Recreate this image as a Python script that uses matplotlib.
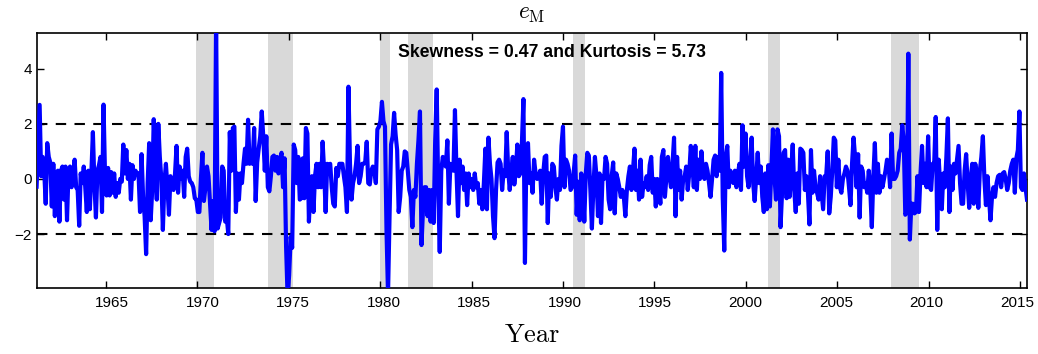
import numpy as np
import matplotlib
matplotlib.use('Agg')
import matplotlib.pyplot as plt
import matplotlib.transforms as mtransforms

plt.rcParams['font.family'] = ['Liberation Sans', 'DejaVu Sans']
plt.rcParams['mathtext.fontset'] = 'cm'

# monthly e_M values in chunks of about 4.5 years
e_1961 = [-0.28, 1.2, 2.69, 0.1, 0.8, 0.3, -0.9, 1.3, 0.8, 0.6, -1.0, 0.55, -1.35, 0.1, 0.3,
          -1.55, 0.3, 0.45, -0.75, 0.45, -1.5, 0.3, 0.45, -0.3, 0.0, 0.7, -0.3, -0.4, -1.7, 0.2,
          -0.15, 0.45, -0.3, -1.2, 0.3, -1.1, 0.2, 1.7, -0.15, -1.4, 0.3, 0.5, 0.8, -1.2, 2.7,
          0.1, -0.6, 0.4, -0.6, 0.25, -0.5, 0.2, -0.65]
e_1965 = [-0.15, -0.5, 0.0, -0.1, 1.25, 0.2, 1.05, 0.0, 0.55, -0.75, 0.5, 0.0, 0.3, 0.2, 0.2,
          -1.2, 0.9, -0.65, -1.35, -2.73, -0.15, 1.3, -1.5, -0.4, 2.17, 0.55, -0.75, 2.0, 0.8,
          0.0, -1.85, -0.15, 0.55, -0.3, -1.3, 0.1, -0.2, -0.4, 0.2, 1.2, -0.5, 0.45, 0.0, 0.3,
          -0.65, 0.8, 1.1, 0.1, -0.1, -0.15, -0.3, -0.7, -0.75, -1.2]
e_1970 = [-1.2, 0.0, 0.95, -0.8, -0.3, 0.45, 0.1, -0.9, -1.85, -0.8, -1.9, 5.8, -1.8, -1.6,
          -1.4, 0.45, 0.3, -1.55, -1.4, -2.0, 1.7, 0.3, 1.85, 1.9, -1.2, 0.2, -0.75, 0.2, -0.15,
          0.55, 1.1, 0.55, 2.15, 0.55, 0.8, 0.55, 1.85, -0.8, 0.6, 1.1, 1.55, 2.45, 1.55, 0.3,
          1.55, -0.3, -0.45, 0.1, 0.8, 0.85, 0.3, 0.8, 0.2, 0.7]
e_1974 = [0.95, -0.3, 0.75, -2.45, -4.3, -3.5, -2.1, -2.5, 1.25, 1.05, -0.15, 0.8, -0.75, -0.7,
          0.75, -0.7, 1.85, 1.65, -1.55, -0.3, 0.1, -1.2, 0.1, 0.55, -0.3, 0.55, -0.3, 1.35, 0.3,
          -1.2, 0.55, 0.45, 0.55, -0.3, -0.9, -1.0, 0.4, 0.1, 0.55, 0.55, 0.55, 0.1, -0.3, -1.2,
          3.35, 0.55, -0.75, -0.15, 0.1, 0.55, 1.2, -0.15, 0.1, 0.55]
e_1979 = [0.55, 0.6, 1.35, -0.15, -0.2, 0.3, 0.45, 0.3, -0.15, 1.8, 1.9, 2.1, 2.8, 2.1, 1.9,
          -1.85, -4.2, -1.35, 1.25, 1.55, 2.4, 1.6, 1.05, -1.2, -0.65, 0.3, 0.45, 1.0, 0.95, 0.3,
          -0.4, -0.65, -1.75, -0.4, -0.65, 0.55, 1.4, 2.45, -2.4, -1.1, -0.3, -0.3, -1.35, -0.4,
          -1.55, -0.4, -1.6, 1.4, 3.25, -0.4, -2.65, 0.3, 0.8, 0.6]
e_1983 = [0.45, 1.4, -0.9, 0.55, 0.45, 0.3, 2.5, 0.3, -1.35, 0.7, -0.15, 0.45, -0.4, 0.2,
          -0.95, 0.2, -0.3, 0.0, -0.4, 0.2, -0.3, -0.15, -0.9, -0.4, -1.1, -0.15, 1.1, -1.1, 1.5,
          0.55, 0.0, -1.35, -2.15, -0.4, 0.6, 0.7, 0.55, -0.4, 0.3, 0.1, 1.7, 0.3, -0.4, 0.3,
          0.8, -0.2, 0.3, 1.25, 0.1, 0.2, 1.3, 2.9, -3.05, 1.05]
e_1988 = [1.3, -0.15, 0.2, -0.5, 0.7, 0.2, 0.0, 0.1, 0.3, -0.9, 0.2, 0.8, 0.85, -1.6, 0.2,
          -0.65, 0.55, 0.45, -0.3, -0.75, 0.0, -0.4, 1.2, 1.9, -0.3, 0.7, 0.55, 0.3, -0.4, -0.3,
          0.2, 0.85, -1.3, -0.1, -1.5, 0.2, -0.15, -1.55, 0.2, 0.95, 0.85, -0.4, -1.8, -0.3, 0.8,
          0.1, -1.35, 0.2, -1.6, 0.1, 0.0, 0.8, 0.55, -0.75]
e_1992 = [-1.1, 0.1, 0.6, -1.25, 0.2, 0.0, -0.3, -0.65, -0.4, -0.65, -1.35, -0.4, 0.1, 0.45,
          -0.4, 0.3, 1.1, -0.4, 0.3, -0.75, 0.7, -0.65, -0.15, -0.3, 0.1, -0.4, 0.5, 0.8, -0.5,
          0.0, -1.0, 0.0, -0.3, -0.9, 0.8, 1.05, -0.65, 0.1, 0.8, 0.1, -0.3, 0.55, 1.5, -1.35,
          0.8, -0.4, 0.3, -0.75, 0.0, 0.1, 0.45, -0.4, 0.2, 1.2]
e_1997 = [0.55, -0.3, 1.2, -0.4, 0.7, 0.0, 1.0, 0.2, 0.0, 0.55, 0.3, -0.15, -0.65, 0.0, 0.7,
          0.85, 0.1, 0.8, 0.3, 3.85, -0.65, -2.6, 0.8, 1.2, -0.3, 0.3, 0.0, -0.15, 0.3, -0.3,
          0.2, 0.55, -0.4, 1.95, 0.45, 1.65, 0.1, -0.3, 0.55, 1.5, -0.15, -0.8, 0.1, 0.95, -0.15,
          0.45, -0.65, -1.2, 0.2, -1.1, 0.5, -1.0, 0.45, 1.8]
e_2001 = [0.1, -0.75, 1.8, 1.55, -1.75, -0.5, 0.95, 1.05, -0.7, 0.7, -0.65, 0.3, 1.25, -0.4,
          -1.2, 0.2, -0.9, 1.1, 1.05, 0.95, -0.4, 0.1, -0.5, -1.65, 1.05, -0.5, 0.3, -0.3, -0.5,
          -0.75, 0.1, -0.5, -1.1, 0.1, 0.1, 1.0, -1.25, -0.65, 0.3, 1.5, 1.4, -0.3, 0.7, -0.3,
          -0.5, 0.0, 0.2, 0.45, 0.3, -0.3, -0.95, 0.55, 1.5, 0.8]
e_2006 = [-0.3, 0.9, -1.4, 0.45, 0.3, -0.3, -0.15, -0.5, 0.3, -0.4, -1.75, 0.1, 1.3, -0.5,
          0.55, -0.5, 0.1, -0.3, 0.0, 0.3, 0.7, 0.55, -0.3, 1.65, 0.0, 0.0, 0.1, 0.3, 0.95, 1.1,
          1.95, 1.4, -1.3, -1.2, 4.55, -2.2, -0.9, -0.9, -1.25, -1.2, 0.1, -1.2, 0.2, 1.2, -0.15,
          0.55, -0.3, 1.55, -0.3, -0.4, 0.55, 0.55, 2.25, -1.85]
e_2010 = [0.7, -0.3, -1.1, 0.2, -0.3, 0.8, 2.2, -1.2, 0.45, -0.4, 0.55, 0.2, 0.7, 1.2, -0.15,
          -0.9, -0.9, 0.3, 0.9, -0.15, -1.05, 0.0, 0.55, -0.9, 0.55, 0.1, -1.05, 0.3, 0.8, 1.55,
          0.0, -0.95, 0.1, -0.65, -1.5, -0.65, -0.3, -0.65, -0.15, 0.1, 0.15, -0.3, 0.2, 0.25,
          0.0, -0.4, -0.15, 0.3, 0.55, 0.7, -0.5, 0.75, 1.05, 2.45, -0.3, -0.4, 0.2, -0.3, -0.75]

e_m = np.array(e_1961 + e_1965 + e_1970 + e_1974 + e_1979 + e_1983 + e_1988
               + e_1992 + e_1997 + e_2001 + e_2006 + e_2010)
first_month = 1961.2
last_month = 2015.38
years = np.linspace(first_month, last_month, len(e_m))

# NBER recessions
rec_start = [1969.92, 1973.88, 1980.0, 1981.54, 1990.54, 2001.2, 2007.92]
rec_end = [1970.88, 1975.21, 1980.54, 1982.88, 1991.21, 2001.88, 2009.46]

xticks = [1965, 1970, 1975, 1980, 1985, 1990, 1995, 2000, 2005, 2010, 2015]
yticks = [-2, 0, 2, 4]

fig = plt.figure(figsize=(10.38, 3.54), dpi=100)
ax = fig.add_axes([0.0356, 0.1864, 0.9538, 0.7204])

for s, e in zip(rec_start, rec_end):
    ax.axvspan(s, e, color='#d9d9d9', lw=0, zorder=0)

ax.plot(years, e_m, color='#0000ff', lw=3, zorder=3)
ax.axhline(2, color='black', ls=(0, (5, 4)), lw=1.5, zorder=2)
ax.axhline(-2, color='black', ls=(0, (5, 4)), lw=1.5, zorder=2)

ax.set_xlim(1961.22, 2015.38)
ax.set_ylim(-3.96, 5.3)
ax.set_xticks(xticks)
ax.set_yticks(yticks)
ax.tick_params(direction='in', top=True, right=True, labelsize=11, length=5, width=1)
ax.tick_params(axis='x', pad=6)
for sp in ax.spines.values():
    sp.set_linewidth(1.2)

# in the original the year labels drift from right of the tick (1965) to left of it (2015)
labs = ax.get_xticklabels()
for i, lab in enumerate(labs):
    dx = 6 - 9 * i / (len(labs) - 1)
    shift = mtransforms.ScaledTranslation(dx / 100, 0, fig.dpi_scale_trans)
    lab.set_transform(lab.get_transform() + shift)

ax.set_title(r'$e_{\rm M}$', fontsize=17, pad=10)
ax.set_xlabel(r'$\mathrm{Year}$', fontsize=19, labelpad=9)
ax.text(0.52, 0.922, 'Skewness = 0.47 and Kurtosis = 5.73', transform=ax.transAxes,
        ha='center', va='center', fontsize=12.7, fontweight='bold')

fig.savefig('out.png', dpi=100)
